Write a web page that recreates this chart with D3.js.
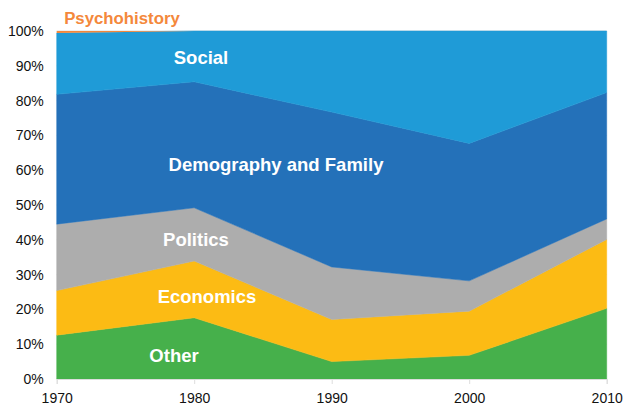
<!DOCTYPE html>
<html>
<head>
<meta charset="utf-8">
<script src="https://cdn.jsdelivr.net/npm/d3@7"></script>
<style>
  body { margin: 0; background: #fff; }
  text { font-family: "Liberation Sans", Arial, Helvetica, sans-serif; }
</style>
</head>
<body>
<svg id="chart"></svg>
<script>
// data (share of each topic, %)
var years = [1970, 1980, 1990, 2000, 2010];
var topics = ["Other", "Economics", "Politics", "Demography and Family", "Social", "Psychohistory"];
var other = [12.6, 17.6, 5.0, 6.8, 20.3];
var economics = [12.8, 16.3, 12.1, 12.7, 19.8];
var politics = [19.1, 15.3, 15.1, 8.7, 5.9];
var demography = [37.3, 36.2, 44.5, 39.5, 36.3];
var social = [17.6, 14.6, 23.3, 32.3, 17.7];
var psychohistory = [0.6, 0, 0, 0, 0];
var yTicks = [0, 10, 20, 30, 40, 50, 60, 70, 80, 90, 100];

var colors = ["#46b04b", "#fcbb14", "#adadad", "#2471b9", "#1f9bd7", "#f4883b"];

// label spots (pixel positions of the text centre / baseline)
var labels = [
  {name: "Other", x: 174, y: 362, color: "#fff", size: 18.5},
  {name: "Economics", x: 207, y: 303, color: "#fff", size: 18.5},
  {name: "Politics", x: 196, y: 246, color: "#fff", size: 18.5},
  {name: "Demography and Family", x: 276, y: 171, color: "#fff", size: 18.5},
  {name: "Social", x: 201, y: 64, color: "#fff", size: 18.5},
  {name: "Psychohistory", x: 122, y: 24, color: "#f4883b", size: 16.8}
];

var width = 625, height = 407;
var margin = {top: 31, right: 18.3, bottom: 28, left: 56.7};

var svg = d3.select("#chart")
  .attr("width", width)
  .attr("height", height);

var series = [other, economics, politics, demography, social, psychohistory];
var rows = years.map(function(yr, i) {
  var r = {year: yr};
  topics.forEach(function(t, k) { r[t] = series[k][i]; });
  return r;
});

var stacked = d3.stack().keys(topics)(rows);

var x = d3.scaleLinear()
  .domain([1970, 2010])
  .range([margin.left, width - margin.right]);

var y = d3.scaleLinear()
  .domain([0, 100])
  .range([height - margin.bottom, margin.top]);

// light grid lines behind the areas
svg.append("g")
  .selectAll("line")
  .data(yTicks)
  .enter().append("line")
  .attr("x1", x(1970))
  .attr("x2", x(2010))
  .attr("y1", d => y(d))
  .attr("y2", d => y(d))
  .style("stroke", "#dddddd")
  .style("stroke-width", 1);

var area = d3.area()
  .x(d => x(d.data.year))
  .y0(d => y(d[0]))
  .y1(d => y(d[1]));

svg.append("g")
  .selectAll("path")
  .data(stacked)
  .enter().append("path")
  .attr("d", area)
  .style("fill", (d, i) => colors[i])
  .style("stroke", (d, i) => i === topics.length - 1 ? "none" : colors[i])
  .style("stroke-width", 0.5);

// x axis
var xAxis = svg.append("g")
  .attr("transform", "translate(0," + y(0) + ")")
  .call(d3.axisBottom(x).tickValues(years).tickFormat(d3.format("d")).tickSize(5).tickPadding(9));
xAxis.select(".domain").style("stroke", "#dddddd");
xAxis.selectAll(".tick line").style("stroke", "#dddddd");
xAxis.selectAll("text")
  .style("font-size", "14px")
  .style("fill", "#111");

// y axis
var yAxis = svg.append("g")
  .attr("transform", "translate(" + (x(1970) - 13) + ",0)")
  .call(d3.axisLeft(y).tickValues(yTicks).tickFormat(d => d + "%").tickSize(0).tickPadding(0));
yAxis.select(".domain").remove();
yAxis.selectAll("text")
  .style("font-size", "14px")
  .style("fill", "#111");

// topic labels
svg.append("g")
  .selectAll("text")
  .data(labels)
  .enter().append("text")
  .attr("x", d => d.x)
  .attr("y", d => d.y)
  .attr("text-anchor", "middle")
  .style("font-weight", "bold")
  .style("font-size", d => d.size + "px")
  .style("fill", d => d.color)
  .text(d => d.name);
</script>
</body>
</html>
